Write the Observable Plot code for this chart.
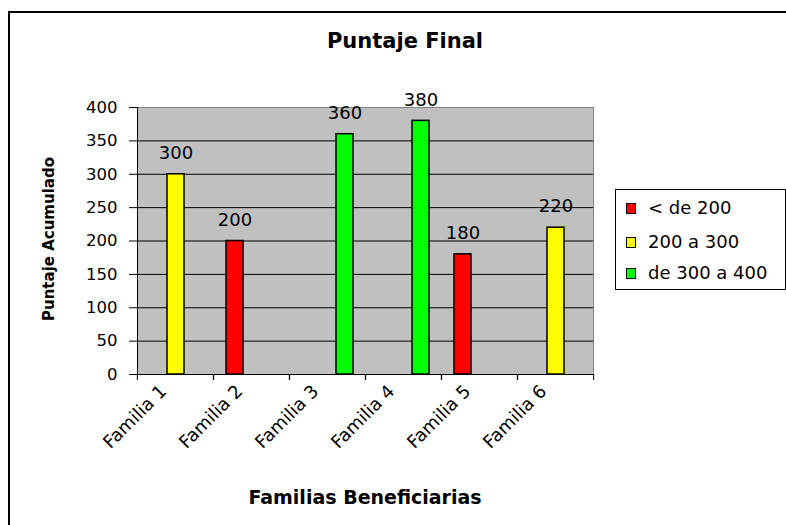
<!DOCTYPE html>
<html><head><meta charset="utf-8">
<script src="https://cdn.jsdelivr.net/npm/d3@7"></script>
<script src="https://cdn.jsdelivr.net/npm/@observablehq/plot@0.6"></script>
<style>
html,body{margin:0;padding:0;background:#fff;}
body{width:786px;height:525px;overflow:hidden;font-family:"DejaVu Sans",sans-serif;color:#000;}
#wrap{position:relative;width:786px;height:525px;overflow:hidden;}
#border{position:absolute;left:8px;top:11px;width:820px;height:600px;border:2px solid #000;box-sizing:border-box;}
#chart{position:absolute;left:0;top:0;}
.t{position:absolute;font-weight:bold;white-space:nowrap;}
#title{left:405px;top:41px;font-size:21px;transform:translate(-50%,-50%);}
#xtitle{left:365px;top:497px;font-size:19px;transform:translate(-50%,-50%);}
#ytitle{left:49px;top:239px;font-size:15px;transform:translate(-50%,-50%) rotate(-90deg);}
#legend{position:absolute;left:615px;top:189px;width:171px;height:101px;border:1px solid #000;box-sizing:border-box;background:#fff;}
.li{position:absolute;left:10px;height:20px;font-size:18px;line-height:20px;white-space:nowrap;}
.sw{display:inline-block;width:8px;height:9px;border:1px solid #000;margin-right:12px;vertical-align:middle;position:relative;top:-1px;}
</style></head><body>
<div id="wrap">
<div id="border"></div>
<div id="chart"></div>
<div class="t" id="title">Puntaje Final</div>
<div class="t" id="xtitle">Familias Beneficiarias</div>
<div class="t" id="ytitle">Puntaje Acumulado</div>
<div id="legend"></div>
</div>
<script>
const familias = ["Familia 1","Familia 2","Familia 3","Familia 4","Familia 5","Familia 6"];
const series = ["< de 200","200 a 300","de 300 a 400"];
const colores = ["#ff0000","#ffff00","#00ff00"];
const puntajes = [300,200,360,380,180,220];
const rangos = ["200 a 300","< de 200","de 300 a 400","de 300 a 400","< de 200","200 a 300"];
const yTicks = [0,50,100,150,200,250,300,350,400];

const data = familias.map((f,i)=>({familia:f, serie:rangos[i], puntaje:puntajes[i]}));

const W=786, H=525, mL=136, mR=192, mT=107, mB=151;
const half = (W-mL-mR)/familias.length/2;

const chart = Plot.plot({
  width: W, height: H,
  marginLeft: mL, marginRight: mR, marginTop: mT, marginBottom: mB,
  style: {fontFamily: "DejaVu Sans, sans-serif", fontSize: "17px", color: "#000", background: "transparent", overflow: "visible"},
  fx: {domain: familias, padding: 0, label: null},
  x: {domain: series, paddingInner: 0, paddingOuter: 0.71, axis: null},
  y: {domain: [0,400], label: null},
  color: {domain: series, range: colores},
  marks: [
    Plot.frame({fill: "#c0c0c0", stroke: "#c0c0c0"}),
    Plot.gridY({ticks: yTicks.filter(v=>v>0 && v<400), stroke: "#000", strokeOpacity: 1}),
    Plot.ruleY([400], {stroke: "#808080"}),
    Plot.frame({anchor: "right", stroke: "#808080", facetAnchor: "right"}),
    Plot.frame({anchor: "left", stroke: "#000", facetAnchor: "left"}),
    Plot.ruleY([0], {stroke: "#000"}),
    Plot.barY(data, {fx: "familia", x: "serie", y: "puntaje", fill: "serie", stroke: "#000", strokeWidth: 1.5}),
    Plot.text(data, {fx: "familia", x: "serie", y: "puntaje", text: d=>String(d.puntaje), dy: -21, fontSize: 18}),
    Plot.axisY({ticks: yTicks, tickSize: 8, tickPadding: 12, fontSize: 16.5, label: null, stroke: "#000"}),
    Plot.axisFx({anchor: "bottom", tickSize: 0, tickPadding: 0, tickRotate: -45, textAnchor: "end", lineAnchor: "bottom", dx: -8, dy: 18, fontSize: 18, label: null}),
    Plot.axisFx({anchor: "bottom", text: null, tickSize: 6, dx: -half, label: null, stroke: "#000"}),
    Plot.axisFx([familias[familias.length-1]], {anchor: "bottom", text: null, tickSize: 6, dx: half, label: null, stroke: "#000"})
  ]
});
document.getElementById("chart").appendChild(chart);

const leg = document.getElementById("legend");
const tops = [8, 42, 73];
series.forEach((s,i)=>{
  const d = document.createElement("div");
  d.className = "li";
  d.style.top = (tops[i]) + "px";
  d.innerHTML = `<span class="sw" style="background:${colores[i]}"></span>`;
  d.appendChild(document.createTextNode(s));
  leg.appendChild(d);
});
</script>
</body></html>
